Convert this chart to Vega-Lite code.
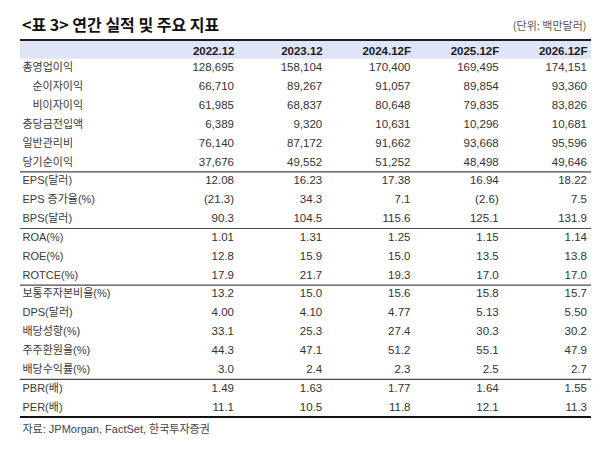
{
  "$schema": "https://vega.github.io/schema/vega-lite/v6.json",
  "width": 571,
  "height": 412,
  "autosize": {"type": "none"},
  "padding": {"left": 20, "top": 40, "right": 9, "bottom": 0},
  "background": "white",
  "title": {
    "text": "<표 3> 연간 실적 및 주요 지표",
    "anchor": "start",
    "frame": "group",
    "orient": "top",
    "font": "Noto Sans CJK KR",
    "fontSize": 16,
    "fontWeight": "bold",
    "color": "#111111",
    "baseline": "middle",
    "dx": 2,
    "offset": -22
  },
  "config": {
    "view": {"stroke": null},
    "font": "Liberation Sans, Noto Sans CJK KR"
  },
  "datasets": {
    "cells": [
      {"항목": "총영업이익", "연도": "2022.12", "값": "128,695"},
      {"항목": "총영업이익", "연도": "2023.12", "값": "158,104"},
      {"항목": "총영업이익", "연도": "2024.12F", "값": "170,400"},
      {"항목": "총영업이익", "연도": "2025.12F", "값": "169,495"},
      {"항목": "총영업이익", "연도": "2026.12F", "값": "174,151"},
      {"항목": "순이자이익", "연도": "2022.12", "값": "66,710"},
      {"항목": "순이자이익", "연도": "2023.12", "값": "89,267"},
      {"항목": "순이자이익", "연도": "2024.12F", "값": "91,057"},
      {"항목": "순이자이익", "연도": "2025.12F", "값": "89,854"},
      {"항목": "순이자이익", "연도": "2026.12F", "값": "93,360"},
      {"항목": "비이자이익", "연도": "2022.12", "값": "61,985"},
      {"항목": "비이자이익", "연도": "2023.12", "값": "68,837"},
      {"항목": "비이자이익", "연도": "2024.12F", "값": "80,648"},
      {"항목": "비이자이익", "연도": "2025.12F", "값": "79,835"},
      {"항목": "비이자이익", "연도": "2026.12F", "값": "83,826"},
      {"항목": "충당금전입액", "연도": "2022.12", "값": "6,389"},
      {"항목": "충당금전입액", "연도": "2023.12", "값": "9,320"},
      {"항목": "충당금전입액", "연도": "2024.12F", "값": "10,631"},
      {"항목": "충당금전입액", "연도": "2025.12F", "값": "10,296"},
      {"항목": "충당금전입액", "연도": "2026.12F", "값": "10,681"},
      {"항목": "일반관리비", "연도": "2022.12", "값": "76,140"},
      {"항목": "일반관리비", "연도": "2023.12", "값": "87,172"},
      {"항목": "일반관리비", "연도": "2024.12F", "값": "91,662"},
      {"항목": "일반관리비", "연도": "2025.12F", "값": "93,668"},
      {"항목": "일반관리비", "연도": "2026.12F", "값": "95,596"},
      {"항목": "당기순이익", "연도": "2022.12", "값": "37,676"},
      {"항목": "당기순이익", "연도": "2023.12", "값": "49,552"},
      {"항목": "당기순이익", "연도": "2024.12F", "값": "51,252"},
      {"항목": "당기순이익", "연도": "2025.12F", "값": "48,498"},
      {"항목": "당기순이익", "연도": "2026.12F", "값": "49,646"},
      {"항목": "EPS(달러)", "연도": "2022.12", "값": "12.08"},
      {"항목": "EPS(달러)", "연도": "2023.12", "값": "16.23"},
      {"항목": "EPS(달러)", "연도": "2024.12F", "값": "17.38"},
      {"항목": "EPS(달러)", "연도": "2025.12F", "값": "16.94"},
      {"항목": "EPS(달러)", "연도": "2026.12F", "값": "18.22"},
      {"항목": "EPS 증가율(%)", "연도": "2022.12", "값": "(21.3)"},
      {"항목": "EPS 증가율(%)", "연도": "2023.12", "값": "34.3"},
      {"항목": "EPS 증가율(%)", "연도": "2024.12F", "값": "7.1"},
      {"항목": "EPS 증가율(%)", "연도": "2025.12F", "값": "(2.6)"},
      {"항목": "EPS 증가율(%)", "연도": "2026.12F", "값": "7.5"},
      {"항목": "BPS(달러)", "연도": "2022.12", "값": "90.3"},
      {"항목": "BPS(달러)", "연도": "2023.12", "값": "104.5"},
      {"항목": "BPS(달러)", "연도": "2024.12F", "값": "115.6"},
      {"항목": "BPS(달러)", "연도": "2025.12F", "값": "125.1"},
      {"항목": "BPS(달러)", "연도": "2026.12F", "값": "131.9"},
      {"항목": "ROA(%)", "연도": "2022.12", "값": "1.01"},
      {"항목": "ROA(%)", "연도": "2023.12", "값": "1.31"},
      {"항목": "ROA(%)", "연도": "2024.12F", "값": "1.25"},
      {"항목": "ROA(%)", "연도": "2025.12F", "값": "1.15"},
      {"항목": "ROA(%)", "연도": "2026.12F", "값": "1.14"},
      {"항목": "ROE(%)", "연도": "2022.12", "값": "12.8"},
      {"항목": "ROE(%)", "연도": "2023.12", "값": "15.9"},
      {"항목": "ROE(%)", "연도": "2024.12F", "값": "15.0"},
      {"항목": "ROE(%)", "연도": "2025.12F", "값": "13.5"},
      {"항목": "ROE(%)", "연도": "2026.12F", "값": "13.8"},
      {"항목": "ROTCE(%)", "연도": "2022.12", "값": "17.9"},
      {"항목": "ROTCE(%)", "연도": "2023.12", "값": "21.7"},
      {"항목": "ROTCE(%)", "연도": "2024.12F", "값": "19.3"},
      {"항목": "ROTCE(%)", "연도": "2025.12F", "값": "17.0"},
      {"항목": "ROTCE(%)", "연도": "2026.12F", "값": "17.0"},
      {"항목": "보통주자본비율(%)", "연도": "2022.12", "값": "13.2"},
      {"항목": "보통주자본비율(%)", "연도": "2023.12", "값": "15.0"},
      {"항목": "보통주자본비율(%)", "연도": "2024.12F", "값": "15.6"},
      {"항목": "보통주자본비율(%)", "연도": "2025.12F", "값": "15.8"},
      {"항목": "보통주자본비율(%)", "연도": "2026.12F", "값": "15.7"},
      {"항목": "DPS(달러)", "연도": "2022.12", "값": "4.00"},
      {"항목": "DPS(달러)", "연도": "2023.12", "값": "4.10"},
      {"항목": "DPS(달러)", "연도": "2024.12F", "값": "4.77"},
      {"항목": "DPS(달러)", "연도": "2025.12F", "값": "5.13"},
      {"항목": "DPS(달러)", "연도": "2026.12F", "값": "5.50"},
      {"항목": "배당성향(%)", "연도": "2022.12", "값": "33.1"},
      {"항목": "배당성향(%)", "연도": "2023.12", "값": "25.3"},
      {"항목": "배당성향(%)", "연도": "2024.12F", "값": "27.4"},
      {"항목": "배당성향(%)", "연도": "2025.12F", "값": "30.3"},
      {"항목": "배당성향(%)", "연도": "2026.12F", "값": "30.2"},
      {"항목": "주주환원율(%)", "연도": "2022.12", "값": "44.3"},
      {"항목": "주주환원율(%)", "연도": "2023.12", "값": "47.1"},
      {"항목": "주주환원율(%)", "연도": "2024.12F", "값": "51.2"},
      {"항목": "주주환원율(%)", "연도": "2025.12F", "값": "55.1"},
      {"항목": "주주환원율(%)", "연도": "2026.12F", "값": "47.9"},
      {"항목": "배당수익률(%)", "연도": "2022.12", "값": "3.0"},
      {"항목": "배당수익률(%)", "연도": "2023.12", "값": "2.4"},
      {"항목": "배당수익률(%)", "연도": "2024.12F", "값": "2.3"},
      {"항목": "배당수익률(%)", "연도": "2025.12F", "값": "2.5"},
      {"항목": "배당수익률(%)", "연도": "2026.12F", "값": "2.7"},
      {"항목": "PBR(배)", "연도": "2022.12", "값": "1.49"},
      {"항목": "PBR(배)", "연도": "2023.12", "값": "1.63"},
      {"항목": "PBR(배)", "연도": "2024.12F", "값": "1.77"},
      {"항목": "PBR(배)", "연도": "2025.12F", "값": "1.64"},
      {"항목": "PBR(배)", "연도": "2026.12F", "값": "1.55"},
      {"항목": "PER(배)", "연도": "2022.12", "값": "11.1"},
      {"항목": "PER(배)", "연도": "2023.12", "값": "10.5"},
      {"항목": "PER(배)", "연도": "2024.12F", "값": "11.8"},
      {"항목": "PER(배)", "연도": "2025.12F", "값": "12.1"},
      {"항목": "PER(배)", "연도": "2026.12F", "값": "11.3"}
    ],
    "header": [{"항목": "구분"}],
    "thinLines": [
      {"항목": "당기순이익"},
      {"항목": "BPS(달러)"},
      {"항목": "ROTCE(%)"},
      {"항목": "배당수익률(%)"}
    ],
    "bottomLine": [{"항목": "PER(배)"}]
  },
  "layer": [
    {
      "data": {"name": "header"},
      "mark": {"type": "rect", "color": "#dfe5f7"},
      "encoding": {
        "y": {"field": "항목", "type": "nominal"}
      }
    },
    {
      "data": {"name": "header"},
      "mark": {"type": "rule", "color": "#1e1e28", "strokeWidth": 2},
      "encoding": {
        "y": {"field": "항목", "type": "nominal", "bandPosition": 0}
      }
    },
    {
      "data": {"name": "thinLines"},
      "mark": {"type": "rule", "color": "#4a4a4a", "strokeWidth": 1.2},
      "encoding": {
        "y": {"field": "항목", "type": "nominal", "bandPosition": 1}
      }
    },
    {
      "data": {"name": "bottomLine"},
      "mark": {"type": "rule", "color": "#111111", "strokeWidth": 2},
      "encoding": {
        "y": {"field": "항목", "type": "nominal", "bandPosition": 1}
      }
    },
    {
      "data": {"name": "cells"},
      "mark": {
        "type": "text",
        "align": "right",
        "baseline": "middle",
        "font": "Liberation Sans, Noto Sans CJK KR",
        "fontSize": 11.5,
        "color": "#333333"
      },
      "encoding": {
        "x": {
          "field": "연도",
          "type": "nominal",
          "scale": {
            "type": "point",
            "domain": ["2022.12", "2023.12", "2024.12F", "2025.12F", "2026.12F"],
            "range": [214, 567],
            "padding": 0
          },
          "axis": {
            "orient": "top",
            "zindex": 2,
            "domain": false,
            "ticks": false,
            "tickSize": 0,
            "labelAngle": 0,
            "labelAlign": "right",
            "labelBaseline": "middle",
            "labelPadding": -11,
            "labelFont": "Liberation Sans",
            "labelFontSize": 11.5,
            "labelFontWeight": "bold",
            "labelColor": "#1a1a1a",
            "labelOverlap": false,
            "labelFlush": false,
            "grid": false,
            "title": "(단위: 백만달러)",
            "titleFont": "Noto Sans CJK KR",
            "titleFontSize": 11,
            "titleFontWeight": "normal",
            "titleColor": "#555555",
            "titleAnchor": "end",
            "titleAlign": "right",
            "titleBaseline": "middle",
            "titleX": 566,
            "titleY": -14
          }
        },
        "y": {
          "field": "항목",
          "type": "nominal",
          "scale": {
            "type": "band",
            "domain": ["구분", "총영업이익", "순이자이익", "비이자이익", "충당금전입액", "일반관리비", "당기순이익", "EPS(달러)", "EPS 증가율(%)", "BPS(달러)", "ROA(%)", "ROE(%)", "ROTCE(%)", "보통주자본비율(%)", "DPS(달러)", "배당성향(%)", "주주환원율(%)", "배당수익률(%)", "PBR(배)", "PER(배)"],
            "range": [0, 377],
            "paddingInner": 0,
            "paddingOuter": 0
          },
          "axis": {
            "orient": "left",
            "zindex": 2,
            "domain": false,
            "ticks": false,
            "tickSize": 0,
            "grid": false,
            "labelAlign": "left",
            "labelBaseline": "middle",
            "labelPadding": {
              "condition": {"test": "datum.value == '순이자이익' || datum.value == '비이자이익'", "value": -12},
              "value": -2
            },
            "labelFont": "Liberation Sans, Noto Sans CJK KR",
            "labelFontSize": 11,
            "labelColor": "#3a3a3a",
            "labelLimit": 300,
            "labelOverlap": false,
            "labelExpr": "datum.value == '구분' ? '' : datum.value",
            "title": "자료: JPMorgan, FactSet, 한국투자증권",
            "titleAngle": 0,
            "titleFont": "Liberation Sans, Noto Sans CJK KR",
            "titleFontSize": 11,
            "titleFontWeight": "normal",
            "titleColor": "#444444",
            "titleAlign": "left",
            "titleBaseline": "middle",
            "titleX": 2,
            "titleY": 389
          }
        },
        "text": {"field": "값", "type": "nominal"}
      }
    }
  ]
}
